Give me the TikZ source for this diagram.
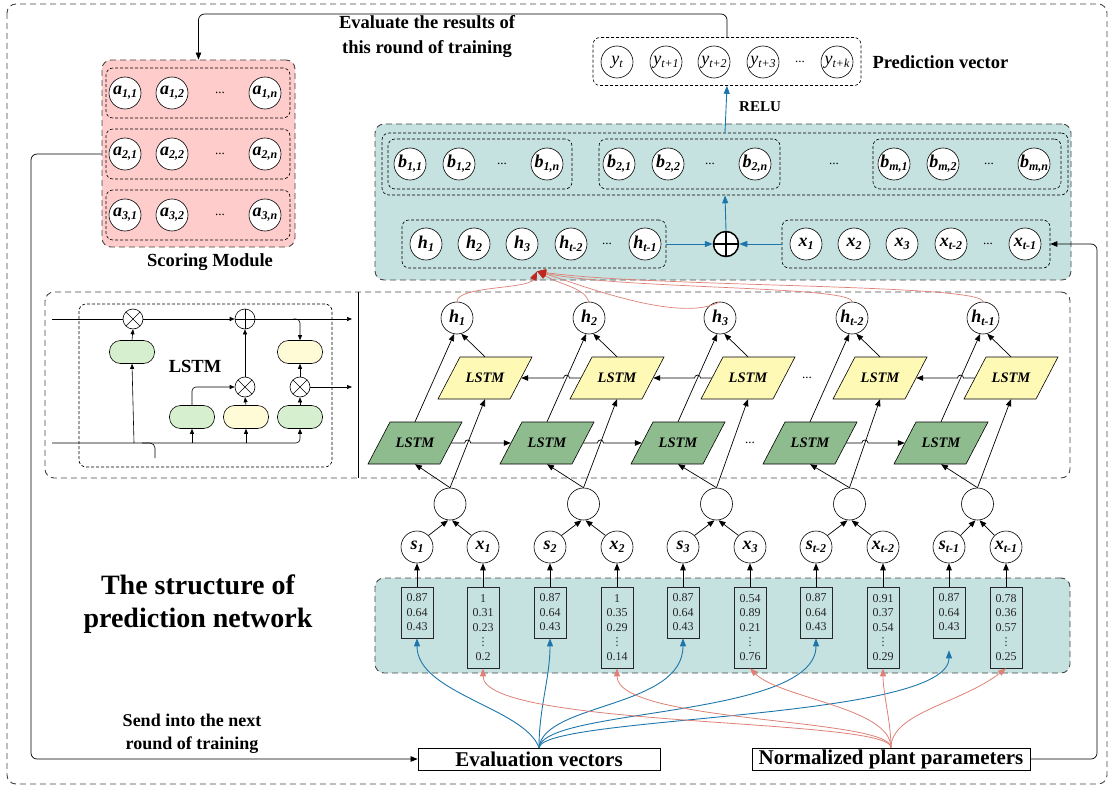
\documentclass[tikz,border=0pt]{standalone}
\usepackage{fontspec}
\setmainfont{Liberation Serif}
\newfontfamily\symfont{DejaVu Sans}
\usetikzlibrary{arrows.meta,calc}

\definecolor{tealfill}{RGB}{198,226,224}
\definecolor{pinkfill}{RGB}{255,204,204}
\definecolor{fwgreen}{RGB}{143,188,143}
\definecolor{bwyellow}{RGB}{255,249,182}
\definecolor{pillgreen}{RGB}{214,239,207}
\definecolor{pillyellow}{RGB}{255,251,214}
\definecolor{lineblue}{RGB}{28,118,172}
\definecolor{linered}{RGB}{222,128,118}
\definecolor{darkred}{RGB}{190,40,30}
\definecolor{framegray}{RGB}{70,70,70}

\newcommand\LabB[2]{\makebox[0pt]{\bfseries\itshape\fontsize{18}{18}\selectfont #1\raisebox{-3pt}{\fontsize{12}{12}\selectfont #2}}}
\newcommand\LabR[2]{\makebox[0pt]{\itshape\fontsize{18}{18}\selectfont #1\raisebox{-3pt}{\fontsize{12}{12}\selectfont #2}}}
\newcommand\Dots{{\fontsize{13}{13}\selectfont ...}}
\newcommand\Vd{{\symfont\fontsize{11}{11}\selectfont ⋮}}

\begin{document}
\begin{tikzpicture}[x=1pt,y=1pt,
 circ/.style={circle,draw,fill=white,minimum size=32pt,inner sep=0pt,line width=0.6pt},
 bigdash/.style={draw=framegray,dash pattern=on 6pt off 4pt,rounded corners=9pt,line width=0.9pt},
 smalldash/.style={draw=black,dash pattern=on 3pt off 2pt,rounded corners=7pt,line width=0.6pt},
 arr/.style={-{Triangle[length=7pt,width=5.5pt]},line width=0.7pt},
 sarr/.style={-{Triangle[length=5pt,width=4pt]},line width=0.6pt},
 bluearr/.style={draw=lineblue,line width=0.9pt,-{Triangle[length=8pt,width=6pt]}},
 redarr/.style={draw=linered,line width=0.8pt,-{Triangle[length=8pt,width=6pt]}},
 pill/.style={draw,rounded corners=11pt,minimum width=45pt,minimum height=23pt,line width=0.6pt},
 otimes/.style={circle,draw,fill=white,minimum size=20pt,inner sep=0pt,line width=0.6pt,
   path picture={\draw[line width=0.6pt] (path picture bounding box.north west)--(path picture bounding box.south east) (path picture bounding box.north east)--(path picture bounding box.south west);}},
 oplus/.style={circle,draw,fill=white,minimum size=20pt,inner sep=0pt,line width=0.6pt,
   path picture={\draw[line width=0.6pt] (path picture bounding box.north)--(path picture bounding box.south) (path picture bounding box.west)--(path picture bounding box.east);}},
 vec/.style={draw=black!85,fill=tealfill,line width=0.7pt,minimum width=32pt,inner xsep=1pt,inner ysep=3pt,align=center,font=\fontsize{12}{14.5}\selectfont,text=black!85},
 lbl/.style={font=\bfseries\fontsize{18.5}{25}\selectfont,align=center},
 lstmtxt/.style={minimum width=72pt,minimum height=42pt,inner sep=0pt,font=\bfseries\itshape\fontsize{14.5}{15}\selectfont}
]
\useasboundingbox (0,0) rectangle (1114,-789);
\draw[bigdash] (7,-4) rectangle (1107,-784);

% ---------- scoring module
\node[bigdash,fill=pinkfill,minimum width=193pt,minimum height=187pt] (sm) at (198.5,-153.5) {};
\foreach \r/\yy in {1/-93,2/-154,3/-215}{
  \node[smalldash,minimum width=184pt,minimum height=50pt] (ra\r) at (198,\yy) {};
  \node[circ] (a\r a) at (125,\yy) {\LabB{a}{\r,1}};
  \node[circ] (a\r b) at (172,\yy) {\LabB{a}{\r,2}};
  \node (a\r d) at (220,\yy) {\Dots};
  \node[circ] (a\r c) at (265,\yy) {\LabB{a}{\r,n}};
}
\node[lbl] (smlab) at (210,-262) {Scoring Module};

% ---------- top text and prediction vector
\node[lbl] (evtxt) at (427,-37) {Evaluate the results of\\this round of training};
\node[smalldash,minimum width=268pt,minimum height=48pt] (pv) at (727,-61.5) {};
\node[circ] (py1) at (617,-62) {\LabR{y}{t}};
\node[circ] (py2) at (666,-62) {\LabR{y}{t+1}};
\node[circ] (py3) at (714,-62) {\LabR{y}{t+2}};
\node[circ] (py4) at (763,-62) {\LabR{y}{t+3}};
\node (pyd) at (800,-62) {\Dots};
\node[circ] (py5) at (837,-62) {\LabR{y}{t+k}};
\node[lbl,anchor=west] (pvlab) at (869,-62) {Prediction vector};

% ---------- teal box
\node[bigdash,fill=tealfill,minimum width=696pt,minimum height=156pt] (tb) at (723,-202) {};
\node[smalldash,minimum width=686pt,minimum height=62pt] (bo) at (725,-164) {};
\node[smalldash,minimum width=184pt,minimum height=50pt] (bg1) at (480,-164) {};
\node[smalldash,minimum width=181pt,minimum height=50pt] (bg2) at (689.5,-164) {};
\node[smalldash,minimum width=188pt,minimum height=50pt] (bg3) at (967,-164) {};
\node[circ] (b11) at (410,-164) {\LabB{b}{1,1}};
\node[circ] (b12) at (459,-164) {\LabB{b}{1,2}};
\node (b1d) at (502,-164) {\Dots};
\node[circ] (b1n) at (547,-164) {\LabB{b}{1,n}};
\node[circ] (b21) at (619,-164) {\LabB{b}{2,1}};
\node[circ] (b22) at (668,-164) {\LabB{b}{2,2}};
\node (b2d) at (710,-164) {\Dots};
\node[circ] (b2n) at (755,-164) {\LabB{b}{2,n}};
\node (bgd) at (834,-164) {\Dots};
\node[circ] (bm1) at (894,-164) {\LabB{b}{m,1}};
\node[circ] (bm2) at (943,-164) {\LabB{b}{m,2}};
\node (bmd) at (989,-164) {\Dots};
\node[circ] (bmn) at (1034,-164) {\LabB{b}{m,n}};

\node[smalldash,minimum width=264pt,minimum height=48pt] (hg) at (534,-244) {};
\node[circ] (th1) at (426,-244) {\LabB{h}{1}};
\node[circ] (th2) at (474,-244) {\LabB{h}{2}};
\node[circ] (th3) at (522,-244) {\LabB{h}{3}};
\node[circ] (th4) at (571,-244) {\LabB{h}{t-2}};
\node (thd) at (607,-244) {\Dots};
\node[circ] (th5) at (645,-244) {\LabB{h}{t-1}};

\node[smalldash,minimum width=268pt,minimum height=48pt] (xg) at (916,-244) {};
\node[circ] (tx1) at (806,-244) {\LabB{x}{1}};
\node[circ] (tx2) at (854,-244) {\LabB{x}{2}};
\node[circ] (tx3) at (902,-244) {\LabB{x}{3}};
\node[circ] (tx4) at (951,-244) {\LabB{x}{t-2}};
\node (txd) at (988,-244) {\Dots};
\node[circ] (tx5) at (1025,-244) {\LabB{x}{t-1}};

\node[circle,draw,fill=white,minimum size=25pt,inner sep=0pt,line width=1.5pt,
  path picture={\draw[line width=1.5pt] (path picture bounding box.north)--(path picture bounding box.south) (path picture bounding box.west)--(path picture bounding box.east);}] (sum) at (726,-244) {};

\draw[bluearr] (hg.east) -- (sum.west);
\draw[bluearr] (xg.west) -- (sum.east);
\draw[bluearr] (sum.north) -- (bo.south);
\draw[bluearr] (bo.north) -- (pv.south);
\node[font=\bfseries\fontsize{15}{15}\selectfont] (relu) at (760,-107) {RELU};

% ---------- middle box
\node[bigdash,minimum width=1025pt,minimum height=186pt] (mb) at (557.5,-385) {};
\draw[line width=0.8pt] (358,-292) -- (358,-478);

% LSTM cell inset
\node[smalldash,minimum width=253pt,minimum height=163pt] (cell) at (205.5,-385.5) {};
\node[otimes] (ox1) at (133,-319) {};
\node[oplus] (op2) at (245,-319) {};
\node[otimes] (ox2) at (245,-387) {};
\node[otimes] (ox3) at (300,-387) {};
\node[pill,fill=pillgreen] (pl1) at (132,-352) {};
\node[pill,fill=pillgreen] (pl2) at (192,-417) {};
\node[pill,fill=pillyellow] (pl3) at (246,-417) {};
\node[pill,fill=pillgreen] (pl4) at (300,-417) {};
\node[pill,fill=pillyellow] (pl5) at (300,-352) {};
\node[font=\bfseries\fontsize{18.5}{19}\selectfont] (celllab) at (195,-366) {LSTM};
\coordinate (cin) at (52,-319);
\coordinate (cout) at (352,-319);
\coordinate (hout) at (352,-387);
\coordinate (xin) at (52,-443);
\coordinate (tap) at (134,-443);
\coordinate (brk) at (142,-443);
\coordinate (brkend) at (155,-458);
\draw[line width=0.6pt] (cin) -- (ox1);
\draw[sarr] (ox1) -- (op2);
\draw[sarr] (op2) -- (cout);
\draw[sarr,rounded corners=4pt] ($(op2.east)+(38,0)$) -| (pl5.north);
\draw[sarr] (pl1.north) -- (ox1.south);
\draw[sarr] (tap) -- (pl1.south);
\draw[sarr,rounded corners=4pt] (xin) -| (pl4.south);
\draw[sarr] (pl2.south |- xin) -- (pl2.south);
\draw[sarr] (pl3.south |- xin) -- (pl3.south);
\draw[line width=0.6pt,rounded corners=5pt] (brk) -| (brkend);
\draw[sarr,rounded corners=4pt] (pl2.north) |- (ox2.west);
\draw[sarr] (pl3.north) -- (ox2.south);
\draw[sarr] (ox2.north) -- (op2.south);
\draw[sarr] (pl4.north) -- (ox3.south);
\draw[sarr] (ox3.north) -- (pl5.south);
\draw[sarr] (ox3.east) -- (hout);

% BiLSTM columns
\foreach \i/\hx/\hs/\sx/\xx in {1/457/1/417/483, 2/589/2/550/617, 3/720/3/683/750, 4/852/t-2/816/883, 5/983/t-1/949/1006}{
  \node[circ] (h\i) at (\hx,-318) {\LabB{h}{\hs}};
  \coordinate (yc\i) at (\hx+28,-378);
  \filldraw[fill=bwyellow,line width=0.6pt] ($(yc\i)+(-47,-21)$) -- ($(yc\i)+(-25,21)$) -- ($(yc\i)+(47,21)$) -- ($(yc\i)+(25,-21)$) -- cycle;
  \node[lstmtxt] (bw\i) at (yc\i) {LSTM};
  \coordinate (gc\i) at (\hx-42,-443);
  \filldraw[fill=fwgreen,line width=0.6pt] ($(gc\i)+(-47,-21)$) -- ($(gc\i)+(-25,21)$) -- ($(gc\i)+(47,21)$) -- ($(gc\i)+(25,-21)$) -- cycle;
  \node[lstmtxt] (fw\i) at (gc\i) {LSTM};
  \node[circ] (m\i) at ({(\sx+\xx)/2},-504) {};
  \node[circ] (s\i) at (\sx,-547) {\LabB{s}{\hs}};
  \node[circ] (x\i) at (\xx,-547) {\LabB{x}{\hs}};
  \draw[arr] (fw\i.north) -- (h\i.-100);
  \draw[arr] (bw\i.north) -- (h\i.-75);
  \draw[arr] (m\i.north) -- (fw\i.south);
  \draw[arr] (m\i.north) -- (bw\i.south);
  \draw[arr] (s\i.north east) -- ([xshift=-2pt]m\i.south);
  \draw[arr] (x\i.north west) -- ([xshift=2pt]m\i.south);
  \coordinate (fh\i) at ($(m\i.north)!0.5056!(bw\i.south)$);
  \coordinate (bh\i) at ($(fw\i.north)!0.4986!(h\i.-100)$);
}
\foreach \i/\j in {1/2,2/3,4/5}{
  \draw[arr] (fw\i.east) -- ($(fh\i)+(-3,0)$) arc[start angle=180,end angle=0,radius=3] -- (fw\j.west);
  \draw[arr] (bw\j.west) -- ($(bh\j)+(3,0)$) arc[start angle=0,end angle=180,radius=3] -- (bw\i.east);
}
\node (bwd) at (807,-378) {\Dots};
\node (fwd) at (750,-443) {\Dots};

% red curves h -> h group
\coordinate (rt) at ($(hg.south)+(3,-3)$);
\begin{scope}[line width=0.7pt,-{Triangle[length=9pt,width=7pt,color=darkred]}]
\draw[draw=linered] (h1.north) .. controls +(0,16) and +(-8,-18) .. (rt);
\draw[draw=linered] (h2.north) .. controls +(-5,14) and +(25,-14) .. (rt);
\draw[draw=linered] (h3.north) .. controls +(-40,-22) and +(45,-14) .. (rt);
\draw[draw=linered] (h4.north) .. controls +(0,16) and +(80,-18) .. (rt);
\draw[draw=linered] (h5.north) .. controls +(0,18) and +(110,-16) .. (rt);
\end{scope}

% ---------- bottom vectors
\node[bigdash,fill=tealfill,minimum width=695pt,minimum height=95pt] (vb) at (722.5,-625.5) {};
\node[vec,minimum height=51pt] (sv1) at (417,-612.5) {0.87\\0.64\\0.43};
\node[vec,minimum height=81pt] (xv1) at (483,-627.5) {1\\0.31\\0.23\\\Vd\\0.2};
\node[vec,minimum height=51pt] (sv2) at (550,-612.5) {0.87\\0.64\\0.43};
\node[vec,minimum height=81pt] (xv2) at (617,-627.5) {1\\0.35\\0.29\\\Vd\\0.14};
\node[vec,minimum height=51pt] (sv3) at (683,-612.5) {0.87\\0.64\\0.43};
\node[vec,minimum height=81pt] (xv3) at (750,-627.5) {0.54\\0.89\\0.21\\\Vd\\0.76};
\node[vec,minimum height=51pt] (sv4) at (816,-612.5) {0.87\\0.64\\0.43};
\node[vec,minimum height=81pt] (xv4) at (883,-627.5) {0.91\\0.37\\0.54\\\Vd\\0.29};
\node[vec,minimum height=51pt] (sv5) at (949,-612.5) {0.87\\0.64\\0.43};
\node[vec,minimum height=81pt] (xv5) at (1006,-627.5) {0.78\\0.36\\0.57\\\Vd\\0.25};
\foreach \i in {1,...,5}{
  \draw[arr] (sv\i.north) -- (s\i.south);
  \draw[arr] (xv\i.north) -- (x\i.south);
}

% ---------- bottom boxes
\node[draw,line width=0.8pt,minimum width=242pt,minimum height=22pt,inner ysep=0pt,font=\bfseries\fontsize{21}{21}\selectfont] (ev) at (539,-759) {Evaluation vectors};
\node[draw,line width=0.8pt,minimum width=278pt,minimum height=22pt,inner ysep=0pt,font=\bfseries\fontsize{21}{21}\selectfont] (np) at (891,-759) {Normalized plant parameters};

\coordinate (sv5in) at ($(sv5.south)+(0,-12)$);
\draw[bluearr] (ev.north) .. controls +(-15,40) and +(0,-55) .. (sv1.south);
\draw[bluearr] (ev.north) .. controls +(0,40) and +(0,-40) .. (sv2.south);
\draw[bluearr] (ev.north) .. controls +(5,45) and +(0,-70) .. (sv3.south);
\draw[bluearr] (ev.north) .. controls +(5,40) and +(0,-80) .. (sv4.south);
\draw[bluearr] (ev.north) .. controls +(5,32) and +(0,-70) .. (sv5in);
\draw[redarr] (np.north) .. controls +(0,30) and +(0,-60) .. (xv1.south);
\draw[redarr] (np.north) .. controls +(0,30) and +(0,-55) .. (xv2.south);
\draw[redarr] (np.north) .. controls +(0,40) and +(30,-30) .. (xv3.south);
\draw[redarr] (np.north) .. controls +(0,25) and +(0,-25) .. (xv4.south);
\draw[redarr] (np.north) .. controls +(0,35) and +(-45,-35) .. (xv5.south);

% ---------- texts and rails
\node[font=\bfseries\fontsize{28}{33}\selectfont,align=center] (title) at (198,-604) {The structure of\\prediction network};
\node[lbl,font=\bfseries\fontsize{18}{23}\selectfont] (sendtxt) at (192,-734) {Send into the next\\round of training};

\coordinate (trail) at (0,-14);
\coordinate (lrail) at (31,-154);
\coordinate (rrail) at (1097,-759);
\draw[arr,rounded corners=6pt] (pv.north) |- (sm.north |- trail) -- (sm.north);
\draw[arr,rounded corners=6pt] (sm.west |- ra2.west) -- (lrail) |- (ev.west);
\draw[arr,rounded corners=6pt] (np.east) -- (rrail) |- (xg.east);
\end{tikzpicture}
\end{document}
